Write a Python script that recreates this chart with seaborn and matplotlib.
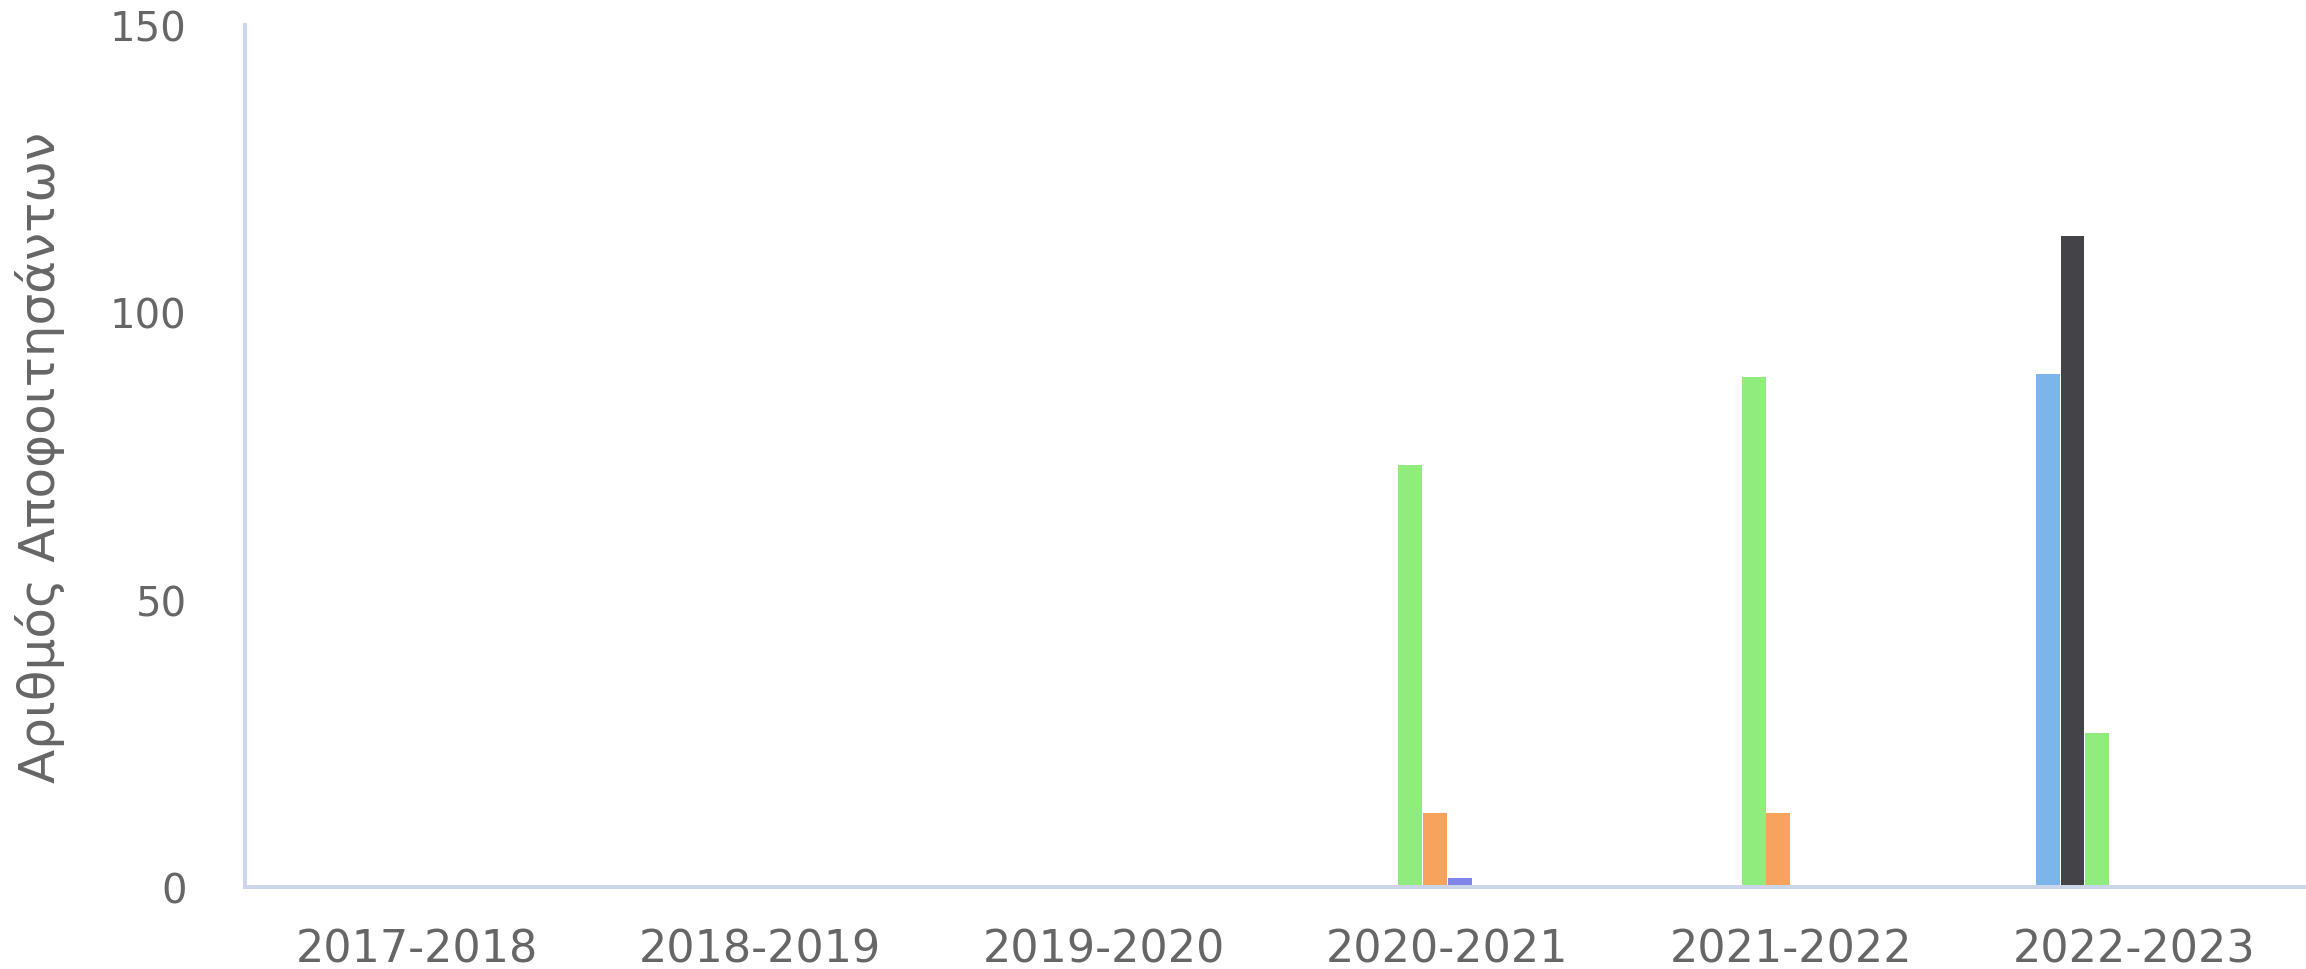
import pandas as pd
import matplotlib.pyplot as plt
import seaborn as sns

# ---- data ----
years = ['2017-2018', '2018-2019', '2019-2020', '2020-2021', '2021-2022', '2022-2023']
series = ['Σειρά 1', 'Σειρά 2', 'Σειρά 3', 'Σειρά 4', 'Σειρά 5', 'Σειρά 6', 'Σειρά 7', 'Σειρά 8']
colors = ['#7cb5ec', '#434348', '#90ed7d', '#f7a35c', '#8085e9', '#f15c80', '#e4d354', '#2b908f']

s1 = [0, 0, 0, 0, 0, 89.2]
s2 = [0, 0, 0, 0, 0, 113.2]
s3 = [0, 0, 0, 73.4, 88.8, 26.8]
s4 = [0, 0, 0, 12.8, 12.8, 0.3]
s5 = [0, 0, 0, 1.6, 0.3, 0]
s6 = [0, 0, 0, 0, 0, 0]
s7 = [0, 0, 0, 0, 0, 0]
s8 = [0, 0, 0, 0, 0, 0]

y_ticks = [0, 50, 100, 150]
y_title = 'Αριθμός Αποφοιτησάντων'

# long table for seaborn
rows = []
for name, vals in zip(series, [s1, s2, s3, s4, s5, s6, s7, s8]):
    for yr, v in zip(years, vals):
        rows.append({'year': yr, 'series': name, 'value': v})
df = pd.DataFrame(rows)

sns.set_style('white')
plt.rcParams['font.family'] = ['DejaVu Sans']

fig = plt.figure(figsize=(23.06, 9.70), dpi=100)
ax = fig.add_axes([0.1062, 0.0845, 0.8938, 0.8887])

sns.barplot(data=df, x='year', y='value', hue='series', order=years,
            hue_order=series, palette=colors, width=0.575, gap=0.03,
            errorbar=None, legend=False, linewidth=0, saturation=1, ax=ax)

ax.set_xlim(-0.5, len(years) - 0.5)
ax.set_ylim(0, 150)
ax.set_yticks(y_ticks)
ax.set_yticklabels([str(t) for t in y_ticks])

axis_col = '#ccd6eb'
text_col = '#666666'
for side in ['top', 'right']:
    ax.spines[side].set_visible(False)
for side in ['left', 'bottom']:
    ax.spines[side].set_color(axis_col)
    ax.spines[side].set_linewidth(2.9)

ax.tick_params(axis='y', length=0, pad=42, labelsize=29, labelcolor=text_col)
ax.tick_params(axis='x', length=0, pad=29, labelsize=32, labelcolor=text_col)

ax.set_xlabel('')
ax.set_ylabel(y_title, fontsize=36, color=text_col)
ax.yaxis.set_label_coords(-0.0875, 0.5)
ax.grid(False)

fig.savefig('out.png', dpi=100)
